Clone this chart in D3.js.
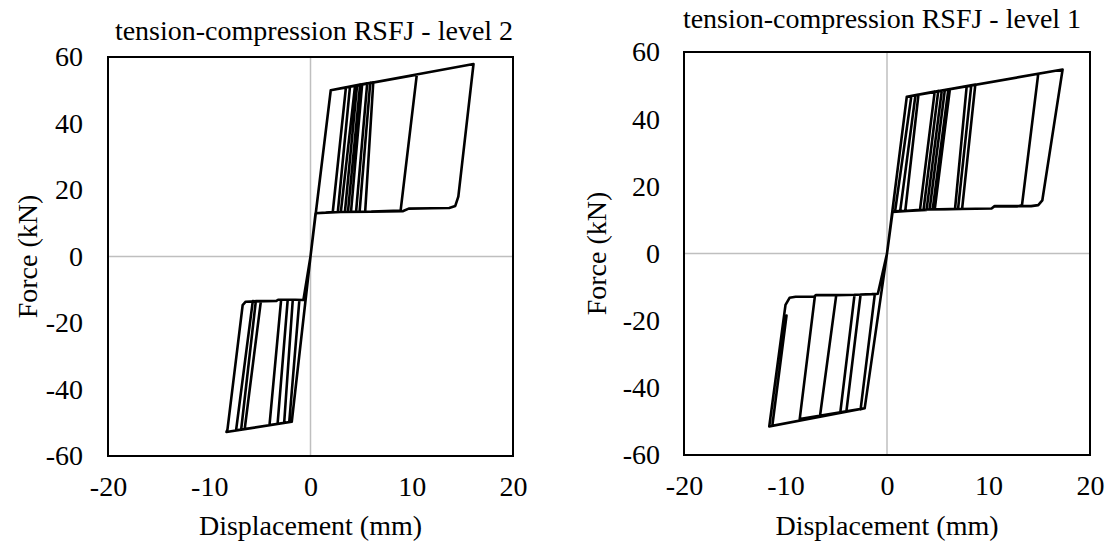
<!DOCTYPE html>
<html>
<head>
<meta charset="utf-8">
<script src="https://cdn.jsdelivr.net/npm/d3@7"></script>
<style>
  body { margin: 0; background: #fff; }
  svg text { font-family: "Liberation Serif", "Times New Roman", serif; fill: #000; }
</style>
</head>
<body>
<div class="container"></div>
<script>
const WIDTH = 1110;
const HEIGHT = 542;
const FONT_SIZE = 28;
const FONT = '"Liberation Serif", "Times New Roman", serif';

var xTicks = [-20, -10, 0, 10, 20];
var yTicks = [-60, -40, -20, 0, 20, 40, 60];

// level 2 (left) - displacement mm, force kN
var l2PosKnee = [2.0, 50.0];
var l2PosReturn = [0.5, 13.0];
var l2NegKnee = [-1.85, -49.7];
var l2NegReturn = [-0.7, -13.1];
var l2PosLoops = [
  [[3.5, 50.9], [2.2, 13.4]],
  [[3.9, 51.1], [2.7, 13.4]],
  [[4.4, 51.4], [3.0, 13.4]],
  [[4.6, 51.5], [3.4, 13.4]],
  [[4.9, 51.7], [3.7, 13.4]],
  [[5.1, 51.8], [4.0, 13.4]],
  [[5.6, 52.1], [4.5, 13.4]],
  [[5.9, 52.2], [4.85, 13.5]],
  [[6.2, 52.4], [5.4, 13.5]],
  [[10.5, 54.7], [8.9, 13.8]],
  [[16.1, 57.9], [14.6, 18.0], [14.3, 15.2], [13.7, 14.6]]
];
var l2PosPlateau = [[12.0, 14.5], [9.7, 14.4], [9.1, 13.6], [6.0, 13.5], [3.0, 13.4], [1.5, 13.2]];
var l2NegLoops = [
  [[-2.1, -49.8], [-1.1, -13.1]],
  [[-2.6, -50.0], [-1.75, -13.0]],
  [[-3.25, -50.3], [-2.25, -13.0]],
  [[-4.05, -50.7], [-2.9, -13.0]],
  [[-6.5, -51.9], [-4.9, -13.4]],
  [[-6.85, -52.1], [-5.4, -13.4]],
  [[-7.35, -52.3], [-5.7, -13.4]],
  [[-8.3, -52.8], [-8.2, -52.0], [-6.7, -14.6], [-6.4, -13.6]]
];
var l2NegPlateau = [[-5.5, -13.5], [-3.4, -13.4], [-3.2, -13.0], [-1.5, -13.0]];

// level 1 (right)
var l1PosKnee = [1.95, 46.7];
var l1PosReturn = [0.55, 12.4];
var l1NegKnee = [-2.2, -46.1];
var l1NegReturn = [-0.9, -12.0];
var l1PosLoops = [
  [[2.4, 46.9], [0.8, 12.6]],
  [[2.8, 47.1], [1.3, 12.7]],
  [[3.1, 47.3], [1.8, 12.7]],
  [[4.7, 48.2], [3.25, 13.0]],
  [[5.05, 48.4], [3.6, 13.0]],
  [[5.4, 48.5], [3.9, 13.0]],
  [[5.7, 48.7], [4.2, 13.1]],
  [[6.05, 48.9], [4.5, 13.1]],
  [[6.2, 49.0], [4.7, 13.1]],
  [[7.85, 49.8], [6.7, 13.2]],
  [[8.3, 50.0], [7.0, 13.2]],
  [[8.7, 50.3], [7.4, 13.3]],
  [[14.9, 53.5], [13.3, 14.4], [12.8, 14.0]],
  [[17.3, 54.8], [15.3, 15.8], [14.9, 14.4], [14.2, 14.1]]
];
var l1PosPlateau = [[10.6, 14.1], [10.3, 13.4], [4.0, 13.1], [2.0, 12.7]];
var l1NegLoops = [
  [[-2.6, -46.4], [-1.2, -12.1]],
  [[-4.0, -47.0], [-2.6, -12.2]],
  [[-4.6, -47.3], [-3.2, -12.3]],
  [[-6.6, -48.4], [-5.0, -12.4]],
  [[-8.6, -49.3], [-7.1, -12.6]],
  [[-11.6, -51.5], [-10.0, -15.3], [-9.6, -13.2], [-9.0, -12.9]]
];
var l1NegPlateau = [[-7.2, -12.9], [-7.0, -12.4], [-3.0, -12.3], [-1.5, -12.1]];
var l1Tail = [[-11.3, -51.3], [-9.9, -18.5]];

// strings the cycles together into one continuous trace
var buildCurve = function (posKnee, posReturn, posLoops, posPlateau, negKnee, negReturn, negLoops, negPlateau, tail) {
  var pts = [[0, 0]];
  var n = Math.max(posLoops.length, negLoops.length);
  for (var i = 0; i < n; i++) {
    if (posLoops[i]) {
      var lp = posLoops[i];
      pts.push(posKnee);
      lp.forEach(function (p) { pts.push(p); });
      var endX = lp[lp.length - 1][0];
      posPlateau.filter(function (p) { return p[0] < endX; }).forEach(function (p) { pts.push(p); });
      pts.push(posReturn);
      pts.push([0, 0]);
    }
    if (negLoops[i]) {
      var ln = negLoops[i];
      pts.push(negKnee);
      ln.forEach(function (p) { pts.push(p); });
      var endN = ln[ln.length - 1][0];
      negPlateau.filter(function (p) { return p[0] > endN; }).forEach(function (p) { pts.push(p); });
      pts.push(negReturn);
      pts.push([0, 0]);
    }
  }
  if (tail) {
    pts.push(negKnee);
    tail.forEach(function (p) { pts.push(p); });
  }
  return pts;
};

var svg = d3.select('.container').append('svg')
  .attr('width', WIDTH)
  .attr('height', HEIGHT);

var panel = function (cfg) {
  var xScale = d3.scaleLinear().domain([-20, 20]).range([cfg.left, cfg.right]);
  var yScale = d3.scaleLinear().domain([-60, 60]).range([cfg.bottom, cfg.top]);

  // zero lines
  svg.append('line')
    .attr('x1', xScale(0)).attr('x2', xScale(0))
    .attr('y1', cfg.top).attr('y2', cfg.bottom)
    .attr('stroke', '#bfbfbf').attr('stroke-width', 1.5);
  svg.append('line')
    .attr('x1', cfg.left).attr('x2', cfg.right)
    .attr('y1', yScale(0)).attr('y2', yScale(0))
    .attr('stroke', '#bfbfbf').attr('stroke-width', 1.5);

  var line = d3.line()
    .x(function (d) { return xScale(d[0]); })
    .y(function (d) { return yScale(d[1]); });

  svg.append('path')
    .datum(cfg.points)
    .attr('d', line)
    .attr('fill', 'none')
    .attr('stroke', '#000')
    .attr('stroke-width', 2.6)
    .attr('stroke-linejoin', 'round')
    .attr('stroke-linecap', 'round');

  // frame
  svg.append('rect')
    .attr('x', cfg.left).attr('y', cfg.top)
    .attr('width', cfg.right - cfg.left).attr('height', cfg.bottom - cfg.top)
    .attr('fill', 'none').attr('stroke', '#000').attr('stroke-width', 2);

  var plain = function (d) { return String(d); };
  var xAxis = d3.axisBottom(xScale).tickValues(xTicks).tickFormat(plain).tickSize(0).tickPadding(20);
  var yAxis = d3.axisLeft(yScale).tickValues(yTicks).tickFormat(plain).tickSize(0).tickPadding(cfg.yPad);

  var gx = svg.append('g').attr('transform', 'translate(0,' + cfg.bottom + ')').call(xAxis);
  var gy = svg.append('g').attr('transform', 'translate(' + cfg.left + ',0)').call(yAxis);
  [gx, gy].forEach(function (g) {
    g.select('.domain').remove();
    g.attr('font-family', FONT).attr('font-size', FONT_SIZE);
    g.selectAll('text')
      .style('font-family', FONT)
      .style('font-size', FONT_SIZE + 'px')
      .attr('fill', '#000');
  });

  svg.append('text')
    .attr('x', cfg.titleX).attr('y', cfg.titleY)
    .attr('text-anchor', 'middle')
    .attr('font-size', FONT_SIZE)
    .text(cfg.title);

  svg.append('text')
    .attr('x', xScale(0)).attr('y', 535)
    .attr('text-anchor', 'middle')
    .attr('font-size', FONT_SIZE)
    .text('Displacement (mm)');

  svg.append('text')
    .attr('transform', 'translate(' + cfg.yTitleX + ',' + yScale(0) + ') rotate(-90)')
    .attr('text-anchor', 'middle')
    .attr('font-size', FONT_SIZE)
    .text('Force (kN)');
};

panel({
  left: 108, right: 513, top: 57, bottom: 456, yPad: 25,
  title: 'tension-compression RSFJ - level 2', titleX: 314, titleY: 40, yTitleX: 37,
  points: buildCurve(l2PosKnee, l2PosReturn, l2PosLoops, l2PosPlateau,
    l2NegKnee, l2NegReturn, l2NegLoops, l2NegPlateau, null)
});

panel({
  left: 684, right: 1090, top: 52, bottom: 455, yPad: 24,
  title: 'tension-compression RSFJ - level 1', titleX: 882, titleY: 28, yTitleX: 606,
  points: buildCurve(l1PosKnee, l1PosReturn, l1PosLoops, l1PosPlateau,
    l1NegKnee, l1NegReturn, l1NegLoops, l1NegPlateau, l1Tail)
});
</script>
</body>
</html>
